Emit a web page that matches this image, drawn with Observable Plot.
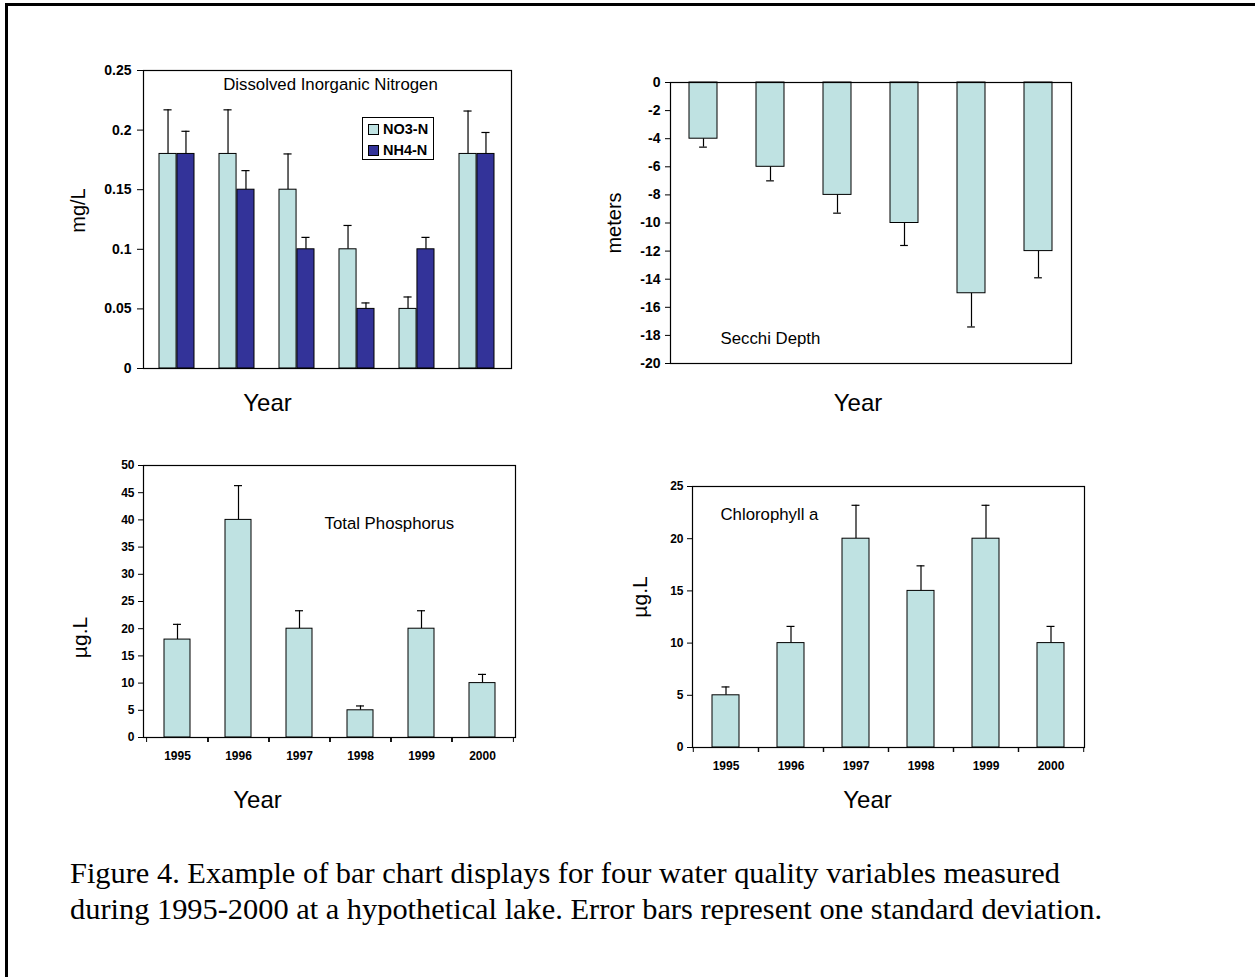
<!DOCTYPE html>
<html>
<head>
<meta charset="utf-8">
<script src="https://cdn.jsdelivr.net/npm/d3@7"></script>
<script src="https://cdn.jsdelivr.net/npm/@observablehq/plot@0.6"></script>
<style>
  body { margin: 0; background: #fff; }
  #page { position: relative; width: 1255px; height: 977px; overflow: hidden; background: #fff;
          font-family: "Liberation Sans", Arial, sans-serif; }
  .panel { position: absolute; }
  #border { position: absolute; left: 5px; top: 3px; width: 1300px; height: 1000px;
            border-top: 3px solid #000; border-left: 3px solid #000; }
  #caption { position: absolute; left: 70px; top: 855px; font-family: "Liberation Serif", "Times New Roman", serif;
             font-size: 30.4px; line-height: 36px; color: #000; white-space: nowrap; }
  #legend { position: absolute; left: 362px; top: 117px; width: 70px; height: 41px; border: 1px solid #000;
            background: #fff; font-weight: bold; font-size: 14.5px; }
  #legend .row { position: absolute; left: 5px; height: 18px; line-height: 18px; display: flex; align-items: center; }
  #legend .sw { width: 9px; height: 9px; border: 1px solid #000; margin-right: 4px; }
</style>
</head>
<body>
<div id="page">
  <div id="border"></div>
  <div id="p1" class="panel" style="left:40px;top:40px"></div>
  <div id="p2" class="panel" style="left:590px;top:60px"></div>
  <div id="p3" class="panel" style="left:40px;top:445px"></div>
  <div id="p4" class="panel" style="left:590px;top:470px"></div>
  <div id="legend"></div>
  <div id="caption"></div>
</div>
<script>
// ---------- data ----------
const years = ["1995", "1996", "1997", "1998", "1999", "2000"];

const seriesNames = ["NO3-N", "NH4-N"];
const no3Mean = [0.18, 0.18, 0.15, 0.10, 0.05, 0.18];
const no3Sd   = [0.037, 0.037, 0.03, 0.02, 0.01, 0.036];
const nh4Mean = [0.18, 0.15, 0.10, 0.05, 0.10, 0.18];
const nh4Sd   = [0.019, 0.016, 0.01, 0.005, 0.01, 0.018];

const secchiMean = [-4, -6, -8, -10, -15, -12];
const secchiSd   = [0.6, 1.0, 1.3, 1.6, 2.4, 1.9];

const tpMean = [18, 40, 20, 5, 20, 10];
const tpSd   = [2.8, 6.3, 3.3, 0.8, 3.3, 1.6];

const chlMean = [5, 10, 20, 15, 20, 10];
const chlSd   = [0.8, 1.6, 3.2, 2.4, 3.2, 1.6];

const dinTicks    = [0, 0.05, 0.1, 0.15, 0.2, 0.25];
const secchiTicks = [-20, -18, -16, -14, -12, -10, -8, -6, -4, -2, 0];
const tpTicks     = [0, 5, 10, 15, 20, 25, 30, 35, 40, 45, 50];
const chlTicks    = [0, 5, 10, 15, 20, 25];

const titles = {
  din: "Dissolved Inorganic Nitrogen",
  secchi: "Secchi Depth",
  tp: "Total Phosphorus",
  chl: "Chlorophyll a"
};
const captionLines = [
  "Figure 4. Example of bar chart displays for four water quality variables measured",
  "during 1995-2000 at a hypothetical lake. Error bars represent one standard deviation."
];

const LIGHT = "#bfe2e2";
const DARK = "#333399";
const FONT = "'Liberation Sans', Arial, sans-serif";

const rows = (mean, sd, series) => years.map((y, i) => ({year: y, value: mean[i], sd: sd[i], series}));

// band helpers (layout only)
function bandInfo(frameW, pi, po) {
  const step = frameW / (years.length - pi + 2 * po);
  return {step, bw: step * (1 - pi)};
}

function labelText(txt, opts) {
  return Plot.text([txt], {text: d => d, fontWeight: "normal", fill: "#000",
                           textAnchor: "middle", lineAnchor: "middle", ...opts});
}

// ---------- Panel 1: DIN ----------
{
  const W = 490, H = 390, m = {top: 30, right: 19, bottom: 62, left: 103};
  const pi = 0.41, po = 0.23;
  const {bw} = bandInfo(W - m.left - m.right, pi, po);
  const no3 = rows(no3Mean, no3Sd, seriesNames[0]);
  const nh4 = rows(nh4Mean, nh4Sd, seriesNames[1]);
  const capW = 9;
  const chart = Plot.plot({
    width: W, height: H,
    marginTop: m.top, marginRight: m.right, marginBottom: m.bottom, marginLeft: m.left,
    style: {fontFamily: FONT, fontSize: "14px", fontWeight: "bold", color: "#000", background: "transparent"},
    x: {domain: years, paddingInner: pi, paddingOuter: po, axis: null},
    y: {domain: [0, 0.25], label: null},
    marks: [
      Plot.ruleX(no3, {x: "year", y1: "value", y2: d => d.value + d.sd, dx: -bw / 4, stroke: "#000", strokeWidth: 1.2}),
      Plot.tickY(no3, {x: "year", y: d => d.value + d.sd, dx: -bw / 4, insetLeft: (bw - capW) / 2, insetRight: (bw - capW) / 2, stroke: "#000", strokeWidth: 1.2}),
      Plot.ruleX(nh4, {x: "year", y1: "value", y2: d => d.value + d.sd, dx: bw / 4, stroke: "#000", strokeWidth: 1.2}),
      Plot.tickY(nh4, {x: "year", y: d => d.value + d.sd, dx: bw / 4, insetLeft: (bw - capW) / 2, insetRight: (bw - capW) / 2, stroke: "#000", strokeWidth: 1.2}),
      Plot.barY(no3, {x: "year", y: "value", insetRight: bw / 2, fill: LIGHT, stroke: "#000", strokeWidth: 1}),
      Plot.barY(nh4, {x: "year", y: "value", insetLeft: bw / 2, fill: DARK, stroke: "#000", strokeWidth: 1}),
      Plot.frame({stroke: "#000", strokeWidth: 1.2}),
      Plot.axisY({ticks: dinTicks, tickFormat: d => String(+d.toFixed(2)), tickSize: 6, tickPadding: 6, label: null}),
      labelText(titles.din, {frameAnchor: "top", dx: 3, dy: 14, fontSize: 16.8}),
      labelText("mg/L", {frameAnchor: "left", rotate: -90, dx: -65, dy: -9, fontSize: 20}),
      labelText("Year", {frameAnchor: "bottom", dx: -60, dy: 35, fontSize: 24})
    ]
  });
  document.getElementById("p1").append(chart);

  const legend = document.getElementById("legend");
  [[seriesNames[0], LIGHT], [seriesNames[1], DARK]].forEach(([name, col], i) => {
    const r = document.createElement("div");
    r.className = "row";
    r.style.top = (2 + i * 21) + "px";
    const sw = document.createElement("span");
    sw.className = "sw";
    sw.style.background = col;
    const t = document.createElement("span");
    t.textContent = name;
    r.append(sw, t);
    legend.append(r);
  });
}

// ---------- Panel 2: Secchi ----------
{
  const W = 500, H = 370, m = {top: 22, right: 19, bottom: 67, left: 80};
  const pi = 0.58, po = 0.27;
  const {bw} = bandInfo(W - m.left - m.right, pi, po);
  const data = rows(secchiMean, secchiSd, "Secchi");
  const capW = 8;
  const chart = Plot.plot({
    width: W, height: H,
    marginTop: m.top, marginRight: m.right, marginBottom: m.bottom, marginLeft: m.left,
    style: {fontFamily: FONT, fontSize: "14px", fontWeight: "bold", color: "#000", background: "transparent"},
    x: {domain: years, paddingInner: pi, paddingOuter: po, axis: null},
    y: {domain: [-20, 0], label: null},
    marks: [
      Plot.ruleX(data, {x: "year", y1: "value", y2: d => d.value - d.sd, stroke: "#000", strokeWidth: 1.2}),
      Plot.tickY(data, {x: "year", y: d => d.value - d.sd, insetLeft: (bw - capW) / 2, insetRight: (bw - capW) / 2, stroke: "#000", strokeWidth: 1.2}),
      Plot.barY(data, {x: "year", y: "value", fill: LIGHT, stroke: "#000", strokeWidth: 1}),
      Plot.frame({stroke: "#000", strokeWidth: 1.2}),
      Plot.axisY({ticks: secchiTicks, tickFormat: d => String(d), tickSize: 5, tickPadding: 5, label: null}),
      labelText(titles.secchi, {frameAnchor: "bottom-left", textAnchor: "start", dx: 50, dy: -25, fontSize: 16.8}),
      labelText("meters", {frameAnchor: "left", rotate: -90, dx: -56, dy: 0, fontSize: 20}),
      labelText("Year", {frameAnchor: "bottom", dx: -13, dy: 40, fontSize: 24})
    ]
  });
  document.getElementById("p2").append(chart);
}

// ---------- Panels 3 & 4: single-series with year labels ----------
function yearPanel({el, W, H, m, pi, po, mean, sd, domain, ticks, title, titleOpts, ylabelOpts, yearOpts}) {
  const {step, bw} = bandInfo(W - m.left - m.right, pi, po);
  const data = rows(mean, sd, title);
  const capW = 8;
  const chart = Plot.plot({
    width: W, height: H,
    marginTop: m.top, marginRight: m.right, marginBottom: m.bottom, marginLeft: m.left,
    style: {fontFamily: FONT, fontSize: "12px", fontWeight: "bold", color: "#000", background: "transparent"},
    x: {domain: years, paddingInner: pi, paddingOuter: po, label: null},
    y: {domain, label: null},
    marks: [
      Plot.ruleX(data, {x: "year", y1: "value", y2: d => d.value + d.sd, stroke: "#000", strokeWidth: 1.2}),
      Plot.tickY(data, {x: "year", y: d => d.value + d.sd, insetLeft: (bw - capW) / 2, insetRight: (bw - capW) / 2, stroke: "#000", strokeWidth: 1.2}),
      Plot.barY(data, {x: "year", y: "value", fill: LIGHT, stroke: "#000", strokeWidth: 1}),
      Plot.frame({stroke: "#000", strokeWidth: 1.2}),
      Plot.axisY({ticks, tickFormat: d => String(d), tickSize: 5, tickPadding: 4, label: null}),
      Plot.axisX({tickSize: 0, tickPadding: 14, label: null}),
      Plot.axisX({tickSize: 5, tickFormat: () => "", dx: -step / 2, label: null}),
      Plot.axisX({tickSize: 5, tickFormat: () => "", dx: step / 2, label: null}),
      labelText(title, {frameAnchor: "top-left", textAnchor: "start", fontSize: 16.8, ...titleOpts}),
      labelText("µg.L", {frameAnchor: "left", rotate: -90, fontSize: 21, ...ylabelOpts}),
      labelText("Year", {frameAnchor: "bottom", fontSize: 24, ...yearOpts})
    ]
  });
  document.getElementById(el).append(chart);
}

yearPanel({
  el: "p3", W: 490, H: 380, m: {top: 20, right: 15, bottom: 88, left: 103},
  pi: 0.58, po: 0.3, mean: tpMean, sd: tpSd, domain: [0, 50], ticks: tpTicks,
  title: titles.tp, titleOpts: {dx: 181, dy: 58}, ylabelOpts: {dx: -63, dy: 36}, yearOpts: {dx: -72, dy: 63}
});
yearPanel({
  el: "p4", W: 510, H: 355, m: {top: 16, right: 16, bottom: 78, left: 102},
  pi: 0.587, po: 0.29, mean: chlMean, sd: chlSd, domain: [0, 25], ticks: chlTicks,
  title: titles.chl, titleOpts: {dx: 28, dy: 28}, ylabelOpts: {dx: -52, dy: -20}, yearOpts: {dx: -21, dy: 53}
});

// ---------- caption ----------
const cap = document.getElementById("caption");
captionLines.forEach(line => {
  const d = document.createElement("div");
  d.textContent = line;
  cap.append(d);
});
</script>
</body>
</html>
